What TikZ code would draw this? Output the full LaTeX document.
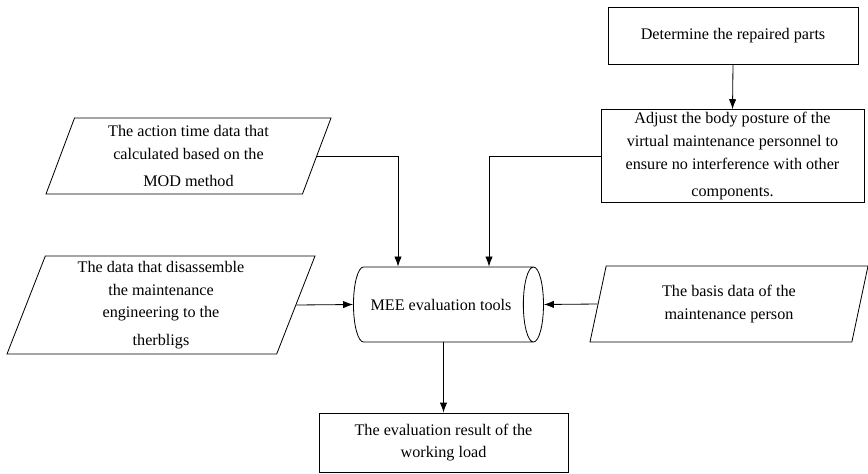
\documentclass[tikz,border=0pt]{standalone}
\usepackage{fontspec}
\setmainfont{Liberation Serif}
\usepackage{xcolor}
\usetikzlibrary{shapes.geometric,arrows.meta}

\tikzset{
  box/.style={rectangle,draw,align=center,inner sep=2pt},
  data/.style={trapezium,draw,align=center,trapezium stretches body,inner sep=1pt},
  tool/.style={cylinder,draw,aspect=1.05,minimum width=2.25cm,minimum height=5.7cm}
}

\begin{document}
\begin{tikzpicture}[x=0.03cm,y=-0.03cm,>={Latex[length=3mm,width=2.2mm]},line width=0.7pt,
  font=\fontsize{13.8}{19.5}\selectfont]
\useasboundingbox (0,0) rectangle (868,473);

\path (441,304.5) node(mee) [tool] {MEE evaluation tools}
(733,35.5) node(repair) [box,minimum width=7.5cm,minimum height=1.71cm] {Determine the repaired parts}
(732.5,156) node(adjust) [box,minimum width=7.89cm,minimum height=2.64cm]
  {Adjust the body posture of the\\virtual maintenance personnel to\\ensure no interference with other\\[4pt]components.}
(443.5,442.5) node(result) [box,minimum width=7.47cm,minimum height=1.77cm]
  {The evaluation result of the\\working load};

\path (188.5,156) node(timedata) [data,trapezium left angle=66,trapezium right angle=114,
  minimum width=8.55cm,minimum height=2.28cm]
  {The action time data that\\calculated based on the\\[4pt]MOD method}
(161,305) node(therbligs) [data,trapezium left angle=67,trapezium right angle=113,
  minimum width=9.24cm,minimum height=2.94cm]
  {The data that disassemble\\the maintenance\\engineering to the\\[4pt]therbligs}
(729,304) node(person) [data,trapezium left angle=68,trapezium right angle=112,
  minimum width=8.34cm,minimum height=2.28cm]
  {The basis data of the\\maintenance person};

% inputs into the evaluation tool
\draw[->] (repair.south) -- (adjust.north);
\draw[->] (timedata.east) -| ([xshift=-1.29cm]mee.north);
\draw[->] (adjust.west) -| ([xshift=1.44cm]mee.north);
\draw[->] (therbligs.east) -- (mee.west);
\draw[->] (person.west) -- (mee.east);
\draw[->] (mee.south -| result.north) -- (result.north);
\end{tikzpicture}
\end{document}
